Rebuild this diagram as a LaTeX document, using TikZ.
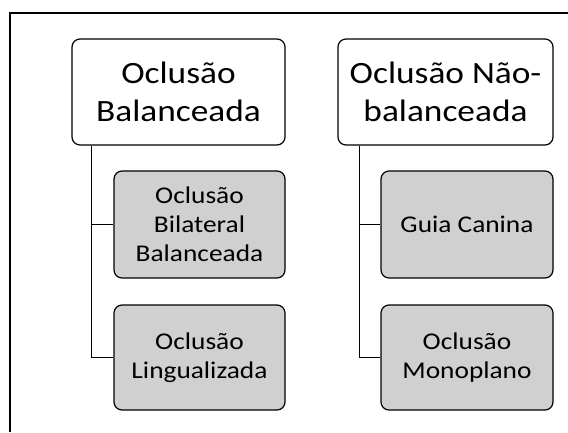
\documentclass[tikz,border=0pt]{standalone}
\usepackage{fontspec}
\setmainfont{Carlito}[FakeStretch=1.14]
\usepackage{tikz}
\usetikzlibrary{positioning}

\definecolor{boxgray}{RGB}{208,208,208}

\begin{document}
\begin{tikzpicture}[x=1pt,y=-1pt]
			\useasboundingbox (0,0) rectangle (568,432);
			\draw[line width=1.5pt] (10,432) -- (10,13) -- (568,13);
			\begin{scope}[every node/.style={draw,line width=1.2pt,rounded corners=8pt,align=center,inner sep=0pt}]
		    \node[fill=white,minimum width=213pt,minimum height=106pt,font=\fontsize{31}{38}\selectfont] (bal) at (178.5,92) {Oclusão\\Balanceada};
		    \node[fill=white,minimum width=215pt,minimum height=106pt,font=\fontsize{31}{38}\selectfont] (nbal) at (445.5,92) {Oclusão Não-\\balanceada};
		    \node[fill=boxgray,minimum width=171pt,minimum height=107pt,font=\fontsize{24}{29}\selectfont] (bil) at (199.5,224.5) {Oclusão\\Bilateral\\Balanceada};
		    \node[fill=boxgray,minimum width=171pt,minimum height=105pt,font=\fontsize{24}{29}\selectfont] (ling) at (199.5,357.5) {Oclusão\\Lingualizada};
		    \node[fill=boxgray,minimum width=172pt,minimum height=107pt,font=\fontsize{24}{29}\selectfont] (guia) at (467,224.5) {Guia Canina};
		    \node[fill=boxgray,minimum width=172pt,minimum height=105pt,font=\fontsize{24}{29}\selectfont] (mono) at (467,357.5) {Oclusão\\Monoplano};
			\end{scope}
			\begin{scope}[line width=1.2pt]
		    \draw ([xshift=20pt]bal.south west) |- (bil.west);
		    \draw ([xshift=20pt]bal.south west) |- (ling.west);
		    \draw ([xshift=22pt]nbal.south west) |- (guia.west);
		    \draw ([xshift=22pt]nbal.south west) |- (mono.west);
	    \end{scope}
\end{tikzpicture}
\end{document}
